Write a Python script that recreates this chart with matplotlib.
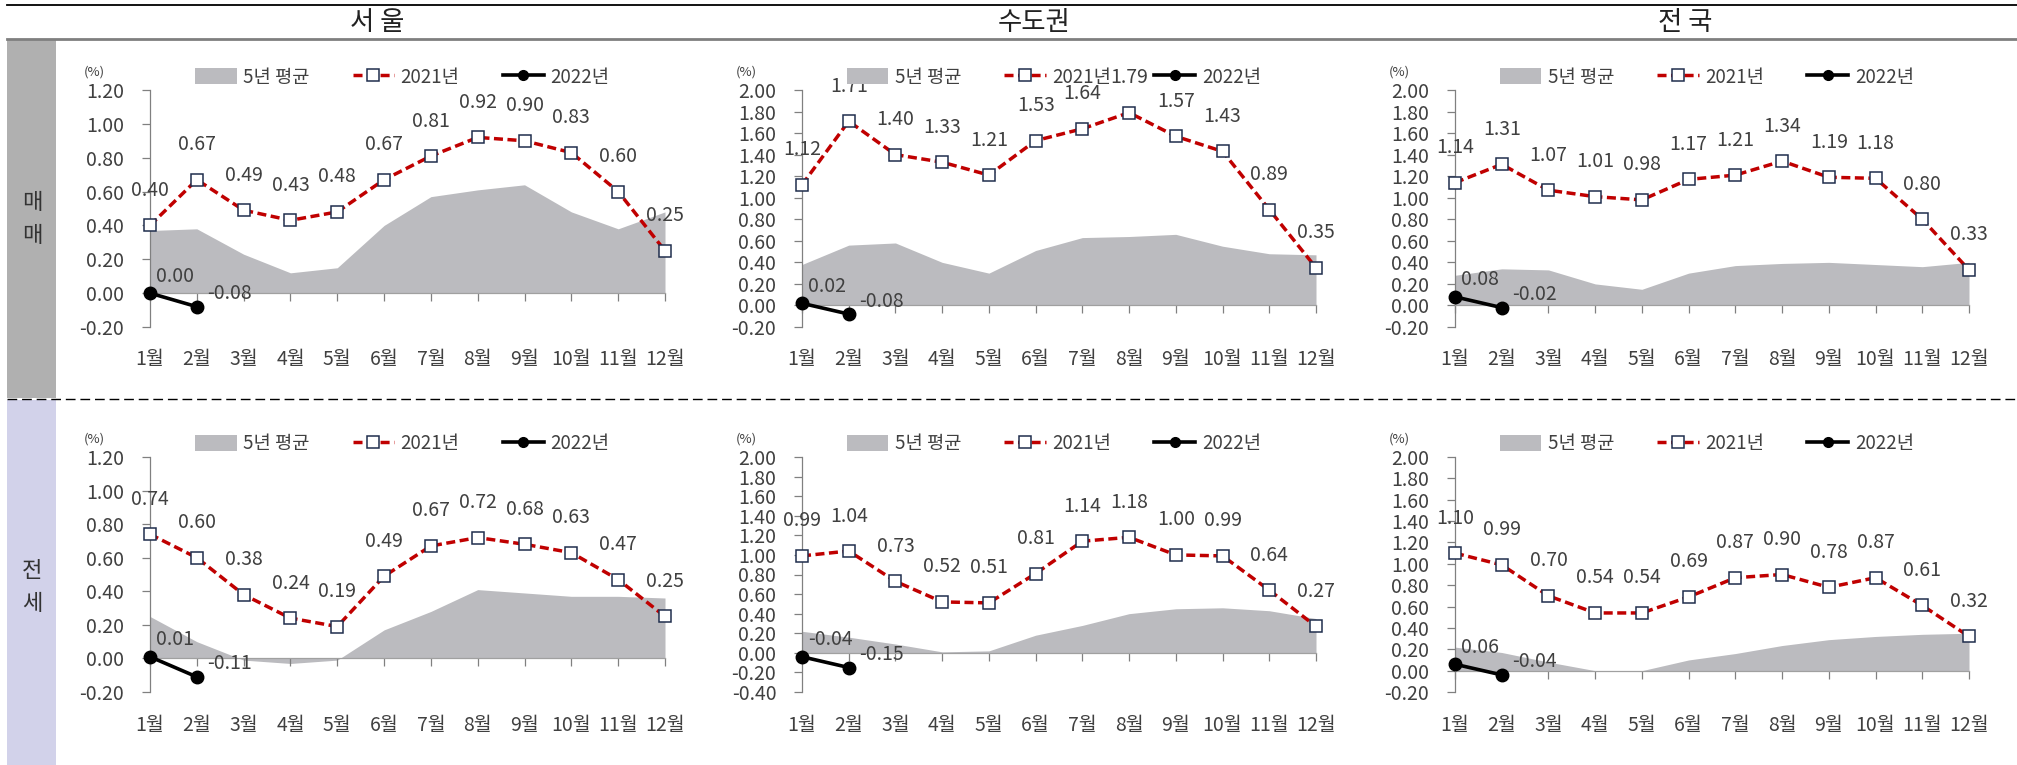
import matplotlib
matplotlib.use("Agg")
import matplotlib.pyplot as plt
from matplotlib.lines import Line2D
from matplotlib.patches import Patch, Rectangle
import numpy as np

plt.rcParams['font.family'] = ['Noto Sans CJK KR', 'DejaVu Sans']

months = ['1월', '2월', '3월', '4월', '5월', '6월', '7월', '8월', '9월', '10월', '11월', '12월']
col_titles = ['서 울', '수도권', '전 국']
row_titles = ['매\n매', '전\n세']
legend_labels = ['5년 평균', '2021년', '2022년']

# 매매 (sale)
seoul_sale_avg = [0.37, 0.38, 0.23, 0.12, 0.15, 0.40, 0.57, 0.61, 0.64, 0.48, 0.38, 0.48]
seoul_sale_2021 = [0.40, 0.67, 0.49, 0.43, 0.48, 0.67, 0.81, 0.92, 0.90, 0.83, 0.60, 0.25]
seoul_sale_2022 = [0.00, -0.08]

capital_sale_avg = [0.38, 0.56, 0.58, 0.40, 0.30, 0.51, 0.63, 0.64, 0.66, 0.55, 0.48, 0.47]
capital_sale_2021 = [1.12, 1.71, 1.40, 1.33, 1.21, 1.53, 1.64, 1.79, 1.57, 1.43, 0.89, 0.35]
capital_sale_2022 = [0.02, -0.08]

nation_sale_avg = [0.28, 0.34, 0.33, 0.20, 0.15, 0.30, 0.37, 0.39, 0.40, 0.38, 0.36, 0.40]
nation_sale_2021 = [1.14, 1.31, 1.07, 1.01, 0.98, 1.17, 1.21, 1.34, 1.19, 1.18, 0.80, 0.33]
nation_sale_2022 = [0.08, -0.02]

# 전세 (jeonse)
seoul_rent_avg = [0.25, 0.10, -0.01, -0.03, -0.01, 0.17, 0.28, 0.41, 0.39, 0.37, 0.37, 0.36]
seoul_rent_2021 = [0.74, 0.60, 0.38, 0.24, 0.19, 0.49, 0.67, 0.72, 0.68, 0.63, 0.47, 0.25]
seoul_rent_2022 = [0.01, -0.11]

capital_rent_avg = [0.22, 0.16, 0.09, 0.01, 0.02, 0.18, 0.28, 0.40, 0.45, 0.46, 0.43, 0.35]
capital_rent_2021 = [0.99, 1.04, 0.73, 0.52, 0.51, 0.81, 1.14, 1.18, 1.00, 0.99, 0.64, 0.27]
capital_rent_2022 = [-0.04, -0.15]

nation_rent_avg = [0.22, 0.17, 0.08, 0.00, 0.00, 0.10, 0.16, 0.235, 0.29, 0.32, 0.34, 0.35]
nation_rent_2021 = [1.10, 0.99, 0.70, 0.54, 0.54, 0.69, 0.87, 0.90, 0.78, 0.87, 0.61, 0.32]
nation_rent_2022 = [0.06, -0.04]

W, H = 2017, 765
AVG_COLOR = '#bbbbbf'
RED = '#c00000'
EDGE = '#1f2d4d'
TXT = '#404040'
FS = 14

fig = plt.figure(figsize=(W / 100, H / 100), dpi=100)
fig.patch.set_facecolor('white')


def fig_box(x0, x1, ytop, ybot):
    return [x0 / W, 1 - ybot / H, (x1 - x0) / W, (ybot - ytop) / H]


# table frame
fig.add_artist(Line2D([7 / W, 1], [1 - 4.5 / H] * 2, color='black', lw=1.3))
fig.add_artist(Line2D([7 / W, 1], [1 - 39 / H] * 2, color='#7f7f7f', lw=2))
fig.add_artist(Rectangle((7 / W, 1 - 398 / H), 49 / W, 358 / H, color='#b0b0b0', lw=0))
fig.add_artist(Rectangle((7 / W, 0), 49 / W, 1 - 400 / H, color='#d2d2ea', lw=0))
fig.add_artist(Line2D([7 / W, 1], [1 - 399 / H] * 2, color='black', lw=1, ls=(0, (7, 3.5))))

for cx, title in zip([377, 1034, 1685], col_titles):
    fig.text(cx / W, 1 - 23 / H, title, ha='center', va='center', fontsize=19, color='#222222')
for cy, title in zip([219, 587], row_titles):
    fig.text(32 / W, 1 - cy / H, title, ha='center', va='center', fontsize=16,
             color='#333333', linespacing=1.55)

cols = [(150, 665), (802, 1316), (1455, 1969)]
rows = [(90, 327), (457, 692)]

charts = [
    (seoul_sale_avg, seoul_sale_2021, seoul_sale_2022, -0.2, 1.2),
    (capital_sale_avg, capital_sale_2021, capital_sale_2022, -0.2, 2.0),
    (nation_sale_avg, nation_sale_2021, nation_sale_2022, -0.2, 2.0),
    (seoul_rent_avg, seoul_rent_2021, seoul_rent_2022, -0.2, 1.2),
    (capital_rent_avg, capital_rent_2021, capital_rent_2022, -0.4, 2.0),
    (nation_rent_avg, nation_rent_2021, nation_rent_2022, -0.2, 2.0),
]

for k, (avg, y21, y22, ymin, ymax) in enumerate(charts):
    x0, x1 = cols[k % 3]
    ytop, ybot = rows[k // 3]
    ax = fig.add_axes(fig_box(x0, x1, ytop, ybot))
    ax.set_facecolor('none')
    x = np.arange(len(months))

    ax.fill_between(x, 0, avg, color=AVG_COLOR, lw=0, zorder=1)
    ax.plot(x, y21, color=RED, lw=2.5, ls=(0, (2.6, 1.3)), marker='s', ms=8.5,
            mfc='white', mec=EDGE, mew=1.1, clip_on=False, zorder=3)
    ax.plot(x[:len(y22)], y22, color='black', lw=2.6, marker='o', ms=9,
            clip_on=False, zorder=4)

    for xi, v in zip(x, y21):
        ax.annotate(f'{v:.2f}', (xi, v), xytext=(0, 35), textcoords='offset pixels',
                    ha='center', va='center', fontsize=FS, color=TXT, zorder=5)
    for xi, v, off in zip(x, y22, [(6, 17), (10, 13)]):
        ax.annotate(f'{v:.2f}', (xi, v), xytext=off, textcoords='offset pixels',
                    ha='left', va='center', fontsize=FS, color=TXT, zorder=5)

    ax.set_xlim(0, len(months) - 1)
    ax.set_ylim(ymin, ymax)
    ticks = np.round(np.arange(ymin, ymax + 0.001, 0.2), 2)
    ax.set_yticks(ticks)
    ax.set_yticklabels([f'{t:.2f}' for t in ticks])
    ax.set_xticks(x)
    ax.tick_params(axis='x', direction='out', length=6, width=0.9, color='#808080',
                   labelbottom=False)
    ax.tick_params(axis='y', direction='out', length=5.5, width=0.9, color='#808080',
                   pad=13, labelsize=FS, labelcolor=TXT)
    for side in ['top', 'right']:
        ax.spines[side].set_visible(False)
    ax.spines['left'].set_color('#808080')
    ax.spines['left'].set_linewidth(0.9)
    ax.spines['bottom'].set_position(('data', 0))
    ax.spines['bottom'].set_color('#a0a0a0')
    ax.spines['bottom'].set_linewidth(0.9)

    for xi, m in zip(x, months):
        ax.annotate(m, (xi, 0), xycoords=('data', 'axes fraction'), xytext=(0, -33),
                    textcoords='offset pixels', ha='center', va='center',
                    fontsize=FS, color=TXT, annotation_clip=False)

    ax.annotate('(%)', (0, 1), xycoords='axes fraction', xytext=(-56, 18),
                textcoords='offset pixels', ha='center', va='center', fontsize=9.5,
                color=TXT, annotation_clip=False)

    handles = [
        Patch(facecolor=AVG_COLOR, edgecolor='none'),
        Line2D([0], [0], color=RED, lw=2.5, ls=(0, (2.6, 1.3)), marker='s', ms=8,
               mfc='white', mec=EDGE, mew=1.1),
        Line2D([0], [0], color='black', lw=2.6, marker='o', ms=7),
    ]
    leg = ax.legend(handles, legend_labels, ncol=3, loc='center',
                    bbox_to_anchor=(0.49, 1.0 + 13 / (ybot - ytop)), frameon=False,
                    fontsize=13.5, handlelength=2.2, handletextpad=0.35,
                    columnspacing=2.3, handleheight=0.9, borderaxespad=0, borderpad=0)
    for t in leg.get_texts():
        t.set_color(TXT)

fig.savefig('out.png', dpi=100, facecolor='white')
